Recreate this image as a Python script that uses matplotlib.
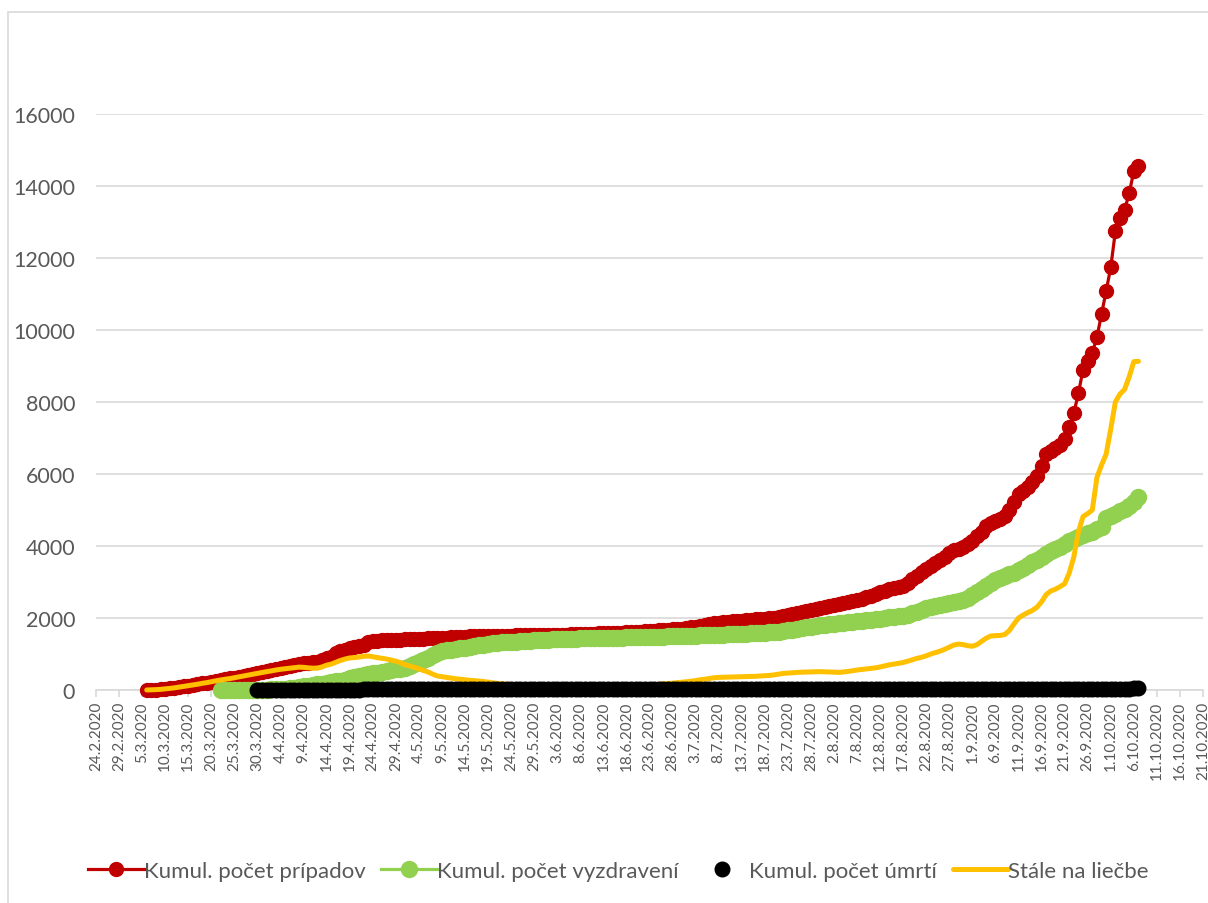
import matplotlib
matplotlib.use("Agg")
import matplotlib.pyplot as plt
from matplotlib.patches import Rectangle
import pandas as pd

plt.rcParams['font.family'] = ['Lato', 'DejaVu Sans']

# Kumulovany pocet pripadov, denne od 6.3.2020 do 7.10.2020
pripady = [
    # marec 6-31
    1, 5, 10, 18, 30, 45, 60, 80, 100, 120, 140, 160, 185, 205, 230, 255,
    280, 300, 320, 345, 370, 395, 420, 445, 470, 500,
    # april
    530, 560, 590, 610, 630, 660, 690, 720, 740, 755, 770, 790, 820, 880, 920,
    1020, 1080, 1120, 1170, 1185, 1210, 1250, 1320, 1355, 1370, 1378, 1382, 1386, 1392, 1397,
    # maj
    1403, 1408, 1413, 1421, 1429, 1440, 1448, 1452, 1455, 1457, 1465, 1472, 1480, 1484, 1488,
    1492, 1495, 1498, 1501, 1504, 1506, 1509, 1511, 1513, 1515, 1518, 1520, 1522, 1524, 1526, 1528,
    # jun
    1530, 1532, 1534, 1537, 1540, 1545, 1548, 1552, 1556, 1560, 1565, 1570, 1575, 1580, 1585,
    1590, 1596, 1602, 1608, 1614, 1620, 1627, 1635, 1645, 1655, 1665, 1675, 1685, 1695, 1705,
    # jul
    1720, 1740, 1760, 1780, 1800, 1820, 1850, 1870, 1885, 1900, 1910, 1920, 1930, 1945, 1955,
    1965, 1975, 1985, 1995, 2010, 2030, 2060, 2090, 2120, 2150, 2180, 2200, 2220, 2250, 2280, 2300,
    # august
    2330, 2360, 2390, 2420, 2450, 2480, 2510, 2540, 2570, 2610, 2660, 2710, 2760, 2800, 2830,
    2860, 2900, 2980, 3080, 3180, 3280, 3370, 3440, 3520, 3600, 3700, 3800, 3880, 3930, 3980, 4060,
    # september
    4150, 4280, 4390, 4560, 4640, 4700, 4760, 4840, 5000, 5210, 5440, 5540, 5640, 5770, 5950,
    6230, 6550, 6640, 6710, 6800, 6970, 7300, 7690, 8250, 8900, 9150, 9360, 9800, 10440, 11080,
    # oktober 1-7
    11740, 12740, 13110, 13330, 13800, 14410, 14560,
]

# Kumulovany pocet vyzdraveni, od 22.3.2020
vyzdraveni = [
    1, 2, 3, 3, 3, 5, 6, 7, 8, 10,
    12, 15, 20, 30, 40, 50, 60, 80, 100, 120, 140, 160, 180, 200, 220,
    240, 260, 290, 320, 350, 380, 420, 440, 460, 480, 500, 520, 545, 570, 590,
    620, 660, 720, 780, 830, 900, 970, 1040, 1070, 1100, 1120, 1140, 1160, 1180, 1200,
    1220, 1240, 1260, 1280, 1295, 1310, 1320, 1330, 1338, 1345, 1350, 1360, 1370, 1380, 1390, 1395,
    1400, 1405, 1410, 1415, 1420, 1425, 1428, 1431, 1434, 1437, 1440, 1443, 1446, 1449, 1452,
    1455, 1458, 1461, 1464, 1467, 1470, 1473, 1476, 1479, 1482, 1485, 1488, 1491, 1494, 1497,
    1500, 1505, 1510, 1515, 1520, 1525, 1530, 1535, 1540, 1545, 1550, 1555, 1560, 1567, 1574,
    1581, 1588, 1595, 1602, 1612, 1625, 1640, 1660, 1680, 1700, 1720, 1740, 1760, 1780, 1800, 1815,
    1833, 1845, 1857, 1870, 1882, 1895, 1910, 1925, 1940, 1955, 1970, 1985, 2000, 2015, 2030,
    2045, 2060, 2090, 2130, 2180, 2230, 2270, 2300, 2330, 2360, 2390, 2420, 2440, 2460, 2500, 2560,
    2640, 2720, 2800, 2900, 2980, 3050, 3110, 3170, 3210, 3260, 3320, 3400, 3480, 3550, 3620,
    3700, 3790, 3870, 3920, 3970, 4050, 4150, 4200, 4260, 4300, 4350, 4400, 4460, 4530, 4780,
    4840, 4900, 4960, 5030, 5120, 5230, 5350,
]

# Kumulovany pocet umrti, od 30.3.2020
umrti = (
    [1, 1]
    + [1, 1, 1, 1, 1, 1, 1, 2, 2, 2, 2, 2, 2, 2, 2, 2, 2, 2, 2, 2,
       12, 14, 14, 15, 17, 18, 18, 18, 18, 18]
    + [22, 22, 23, 23, 23, 24, 25, 25, 25, 25, 26, 27, 27, 27, 27, 27,
       27, 27, 27, 28, 28, 28, 28, 28, 28, 28, 28, 28, 28, 28, 28]
    + [28] * 30
    + [28] * 31
    + [28, 28, 29, 29, 29, 29, 29, 29, 29, 29, 30, 30, 30, 30, 30, 30,
       31, 31, 31, 31, 31, 31, 31, 32, 32, 32, 33, 33, 33, 33, 33]
    + [33, 33, 34, 34, 34, 35, 35, 35, 36, 36, 36, 37, 37, 37, 37, 37,
       38, 38, 38, 38, 38, 38, 38, 38, 38, 38, 39, 39, 40, 40]
    + [40, 40, 41, 41, 41, 42, 42]
)

# Stale na liecbe, od 6.3.2020
na_liecbe = [
    1, 5, 10, 18, 30, 45, 60, 80, 100, 120, 140, 160, 185, 205, 230, 255,
    279, 298, 317, 342, 367, 390, 414, 438, 461, 489,
    510, 530, 555, 575, 590, 605, 620, 635, 630, 615, 605, 610, 640, 690, 720,
    770, 820, 860, 890, 900, 915, 935, 945, 925, 900, 880, 860, 830, 800, 760,
    700, 670, 630, 590, 540, 500, 440, 390, 370, 350, 330, 310, 300, 285, 270,
    260, 250, 235, 220, 200, 185, 170, 160, 150, 140, 130, 125, 120, 115, 110, 105,
    102, 100, 98, 96, 95, 96, 97, 98, 100, 102, 105, 108, 110, 112, 115,
    118, 120, 124, 128, 132, 136, 140, 145, 150, 160, 170, 180, 190, 205, 215,
    230, 245, 260, 285, 300, 320, 340, 350, 355, 360, 362, 365, 368, 372, 376,
    380, 388, 395, 405, 420, 440, 460, 470, 480, 488, 495, 498, 502, 508, 510, 505,
    500, 495, 490, 500, 515, 535, 555, 570, 585, 600, 615, 640, 670, 700, 720,
    740, 765, 800, 840, 880, 910, 950, 1000, 1040, 1080, 1130, 1190, 1250, 1275, 1260, 1230,
    1215, 1260, 1350, 1440, 1500, 1510, 1515, 1540, 1650, 1830, 2000, 2080, 2150, 2210, 2300,
    2450, 2650, 2750, 2800, 2870, 2950, 3250, 3700, 4400, 4820, 4900, 5000, 5900, 6250, 6550,
    7250, 8000, 8220, 8350, 8700, 9120, 9130,
]

dni_pripady = pd.date_range('2020-03-06', periods=len(pripady), freq='D')
dni_vyzdraveni = pd.date_range('2020-03-22', periods=len(vyzdraveni), freq='D')
dni_umrti = pd.date_range('2020-03-30', periods=len(umrti), freq='D')
dni_liecba = pd.date_range('2020-03-06', periods=len(na_liecbe), freq='D')

tick_dni = pd.date_range('2020-02-24', '2020-10-21', freq='5D')
tick_popisky = [f"{d.day}.{d.month}.{d.year}" for d in tick_dni]

fig = plt.figure(figsize=(12.08, 9.04), dpi=100)
fig.patches.append(Rectangle((8 / 1208, -0.01), 1.02, 1 - 13 / 904 + 0.01,
                             transform=fig.transFigure, fill=False,
                             edgecolor='#D9D9D9', linewidth=1.2))
ax = fig.add_axes([96 / 1208, 213 / 904, 1107 / 1208, 576 / 904])

ax.plot(dni_pripady, pripady, color='#C00000', lw=2.3, marker='o', ms=10,
        mec='#C00000', mfc='#C00000', label='Kumul. počet prípadov',
        zorder=3, clip_on=False)
ax.plot(dni_vyzdraveni, vyzdraveni, color='#92D050', lw=2.3, marker='o', ms=11.5,
        mec='#92D050', mfc='#92D050', label='Kumul. počet vyzdravení',
        zorder=4, clip_on=False)
ax.plot(dni_umrti, umrti, color='black', lw=0, marker='o', ms=10.5,
        mec='black', mfc='black', label='Kumul. počet úmrtí',
        zorder=6, clip_on=False)
ax.plot(dni_liecba, na_liecbe, color='#FFC000', lw=3.6, label='Stále na liečbe',
        zorder=5, solid_capstyle='round', clip_on=False)

ax.set_xlim(pd.Timestamp('2020-02-24'), pd.Timestamp('2020-10-21'))
ax.set_ylim(0, 16000)
ax.set_yticks(range(0, 16001, 2000))
ax.set_xticks(tick_dni)
ax.set_xticklabels(tick_popisky, rotation=90)

ax.grid(axis='y', color='#D9D9D9', lw=1.2)
ax.set_axisbelow(True)
for s in ['top', 'right', 'left']:
    ax.spines[s].set_visible(False)
ax.spines['bottom'].set_color('#D9D9D9')
ax.spines['bottom'].set_linewidth(1.2)
ax.tick_params(axis='y', length=0, labelsize=15.5, labelcolor='#595959', pad=15)
ax.tick_params(axis='x', length=5, color='#D9D9D9', width=1.2,
               labelsize=11, labelcolor='#595959', pad=3)

fig.legend(loc='center', bbox_to_anchor=(0.512, 1 - 872 / 904),
           ncol=4, frameon=False, fontsize=16, handlelength=2.5,
           handletextpad=0.0, columnspacing=0.7, labelcolor='#595959')

fig.savefig('out.png', dpi=100)
